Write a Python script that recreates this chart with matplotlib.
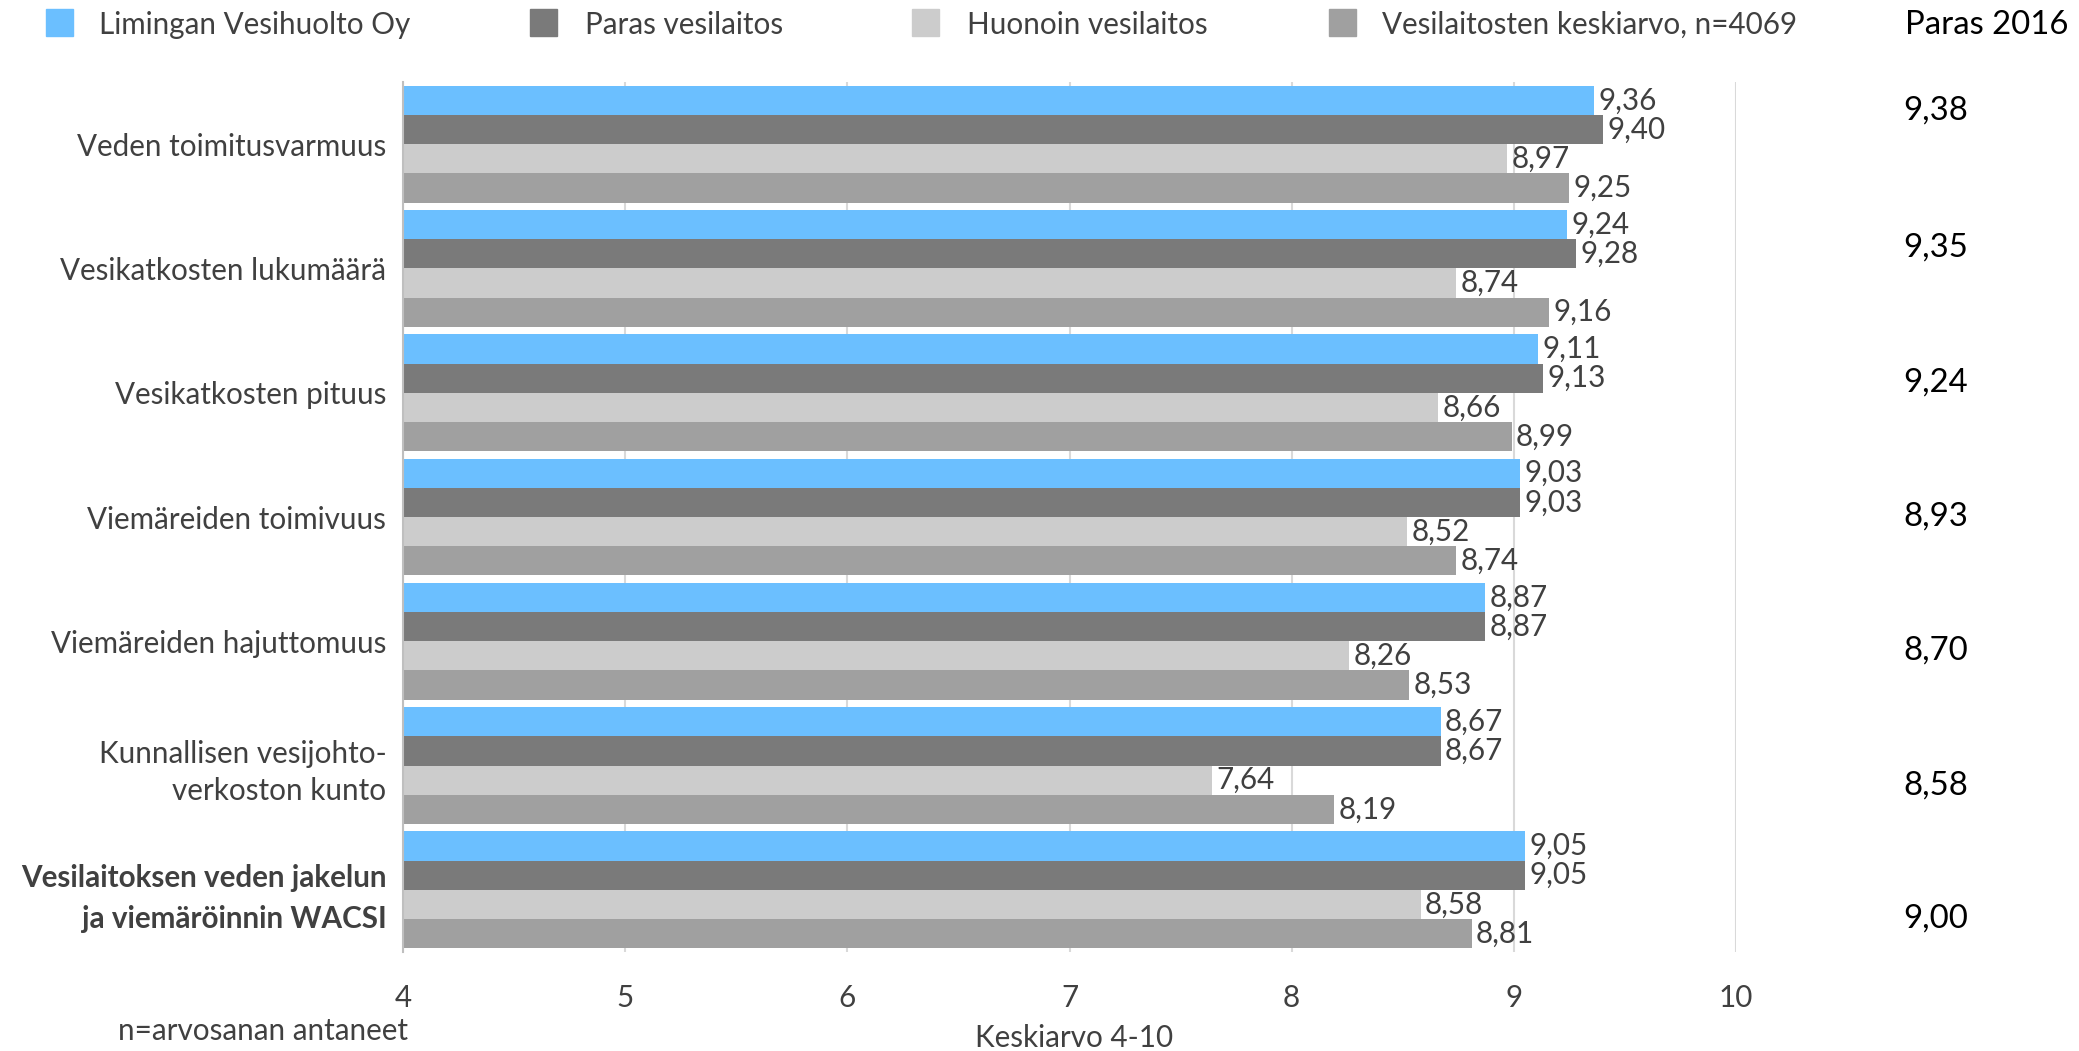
import matplotlib
matplotlib.use("Agg")
import matplotlib.pyplot as plt
import numpy as np
from matplotlib.patches import Rectangle

plt.rcParams['font.family'] = ['Lato', 'DejaVu Sans']

categories = ["Veden toimitusvarmuus", "Vesikatkosten lukumäärä", "Vesikatkosten pituus",
              "Viemäreiden toimivuus", "Viemäreiden hajuttomuus",
              "Kunnallisen vesijohto-\nverkoston kunto",
              "Vesilaitoksen veden jakelun\nja viemäröinnin WACSI"]
series_names = ["Limingan Vesihuolto Oy", "Paras vesilaitos", "Huonoin vesilaitos",
                "Vesilaitosten keskiarvo, n=4069"]
limingan = [9.36, 9.24, 9.11, 9.03, 8.87, 8.67, 9.05]
paras = [9.40, 9.28, 9.13, 9.03, 8.87, 8.67, 9.05]
huonoin = [8.97, 8.74, 8.66, 8.52, 8.26, 7.64, 8.58]
keskiarvo = [9.25, 9.16, 8.99, 8.74, 8.53, 8.19, 8.81]
paras2016 = [9.38, 9.35, 9.24, 8.93, 8.70, 8.58, 9.00]
xticks = [4, 5, 6, 7, 8, 9, 10]

colors = ["#6bbfff", "#7a7a7a", "#cccccc", "#a0a0a0"]
series = [limingan, paras, huonoin, keskiarvo]

W, H = 2079, 1051
FS = 21.3
fig = plt.figure(figsize=(W / 100, H / 100), dpi=100)
ax = fig.add_axes([403 / W, 1 - 952 / H, (1736 - 403) / W, (952 - 82) / H])

n = len(categories)
y = np.arange(n)
h = 0.235
text_col = "#404040"
for k, (vals, c) in enumerate(zip(series, colors)):
    yy = y + (k - 1.5) * h
    ax.barh(yy, np.array(vals) - 4, left=4, height=h, color=c, zorder=2)
    for yi, v in zip(yy, vals):
        ax.text(v + 0.02, yi, f"{v:.2f}".replace(".", ","), va="center", ha="left",
                fontsize=FS, color=text_col, zorder=3)

ax.set_xlim(4, 10)
ax.set_ylim(n - 0.5, -0.5)
ax.set_xticks(xticks)
ax.set_xticklabels([str(t) for t in xticks], fontsize=FS, color=text_col)
ax.tick_params(axis='x', length=0, pad=23)
ax.set_yticks(y)
ax.set_yticklabels(categories, fontsize=FS, color=text_col, ha="right", linespacing=1.4)
last = ax.get_yticklabels()[-1]
last.set_fontweight("bold")
last.set_linespacing(1.55)
ax.tick_params(axis='y', length=0, pad=12)
ax.grid(axis='x', color="#d9d9d9", linewidth=1.5, zorder=0)
for s in ["top", "right", "bottom"]:
    ax.spines[s].set_visible(False)
ax.spines["left"].set_color("#bfbfbf")
ax.spines["left"].set_linewidth(1.5)

# legend
sq_x = [46, 530, 912, 1329]
tx_x = [99, 585, 967, 1382]
for sx, tx, c, name in zip(sq_x, tx_x, colors, series_names):
    fig.patches.append(Rectangle((sx / W, 1 - 36 / H), 27 / W, 27 / H, color=c,
                                 transform=fig.transFigure, figure=fig))
    fig.text(tx / W, 1 - 25 / H, name, fontsize=FS, color=text_col, va="center", ha="left")

fig.text(1987 / W, 1 - 25 / H, "Paras 2016", fontsize=23.7, color="black", va="center", ha="center")
p_y = [111, 248, 383, 517, 651, 786, 919]
for py, v in zip(p_y, paras2016):
    fig.text(1936 / W, 1 - py / H, f"{v:.2f}".replace(".", ","), fontsize=23.7, color="black",
             va="center", ha="center")

fig.text(1074 / W, 1 - 1038 / H, "Keskiarvo 4-10", fontsize=FS, color=text_col, va="center", ha="center")
fig.text(263 / W, 1 - 1031 / H, "n=arvosanan antaneet", fontsize=FS, color=text_col, va="center", ha="center")

fig.savefig("out.png", dpi=100)
